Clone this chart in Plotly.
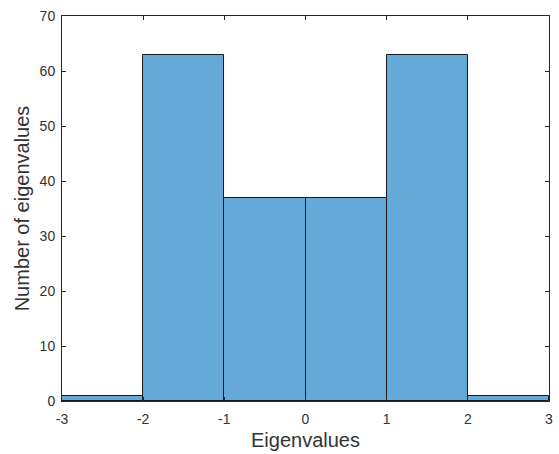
import plotly.graph_objects as go

# histogram bin edges and counts
bin_edges = [-3, -2, -1, 0, 1, 2, 3]
counts = [1, 63, 37, 37, 63, 1]
x_ticks = [-3, -2, -1, 0, 1, 2, 3]
x_tick_text = ["-3", "-2", "-1", "0", "1", "2", "3"]
y_ticks = [0, 10, 20, 30, 40, 50, 60, 70]

centers = [(a + b) / 2 for a, b in zip(bin_edges[:-1], bin_edges[1:])]
widths = [b - a for a, b in zip(bin_edges[:-1], bin_edges[1:])]

FONT = "Liberation Sans, Arial"
TEXT = "#333333"

fig = go.Figure(go.Bar(
    x=centers, y=counts, width=widths,
    marker=dict(color="#64A9D7", line=dict(color="#1a1a1a", width=1)),
))

axis_common = dict(
    showgrid=False, zeroline=False, showline=True, mirror="ticks",
    linecolor="#262626", linewidth=1, ticks="inside", ticklen=4,
    tickcolor="#262626", tickfont=dict(family=FONT, size=14, color=TEXT),
)

fig.update_layout(
    width=559, height=454,
    margin=dict(l=62, r=6, t=16, b=53),
    paper_bgcolor="white", plot_bgcolor="white",
    showlegend=False, bargap=0,
    xaxis=dict(range=[-3, 3], tickvals=x_ticks, ticktext=x_tick_text,
               ticklabelstandoff=5,
               title=dict(text="Eigenvalues", standoff=7,
                          font=dict(family=FONT, size=20, color=TEXT)),
               **axis_common),
    yaxis=dict(range=[0, 70], tickvals=y_ticks,
               ticklabelstandoff=3,
               title=dict(text="Number of eigenvalues", standoff=4,
                          font=dict(family=FONT, size=20, color=TEXT)),
               **axis_common),
)

fig.write_html("out.html")
